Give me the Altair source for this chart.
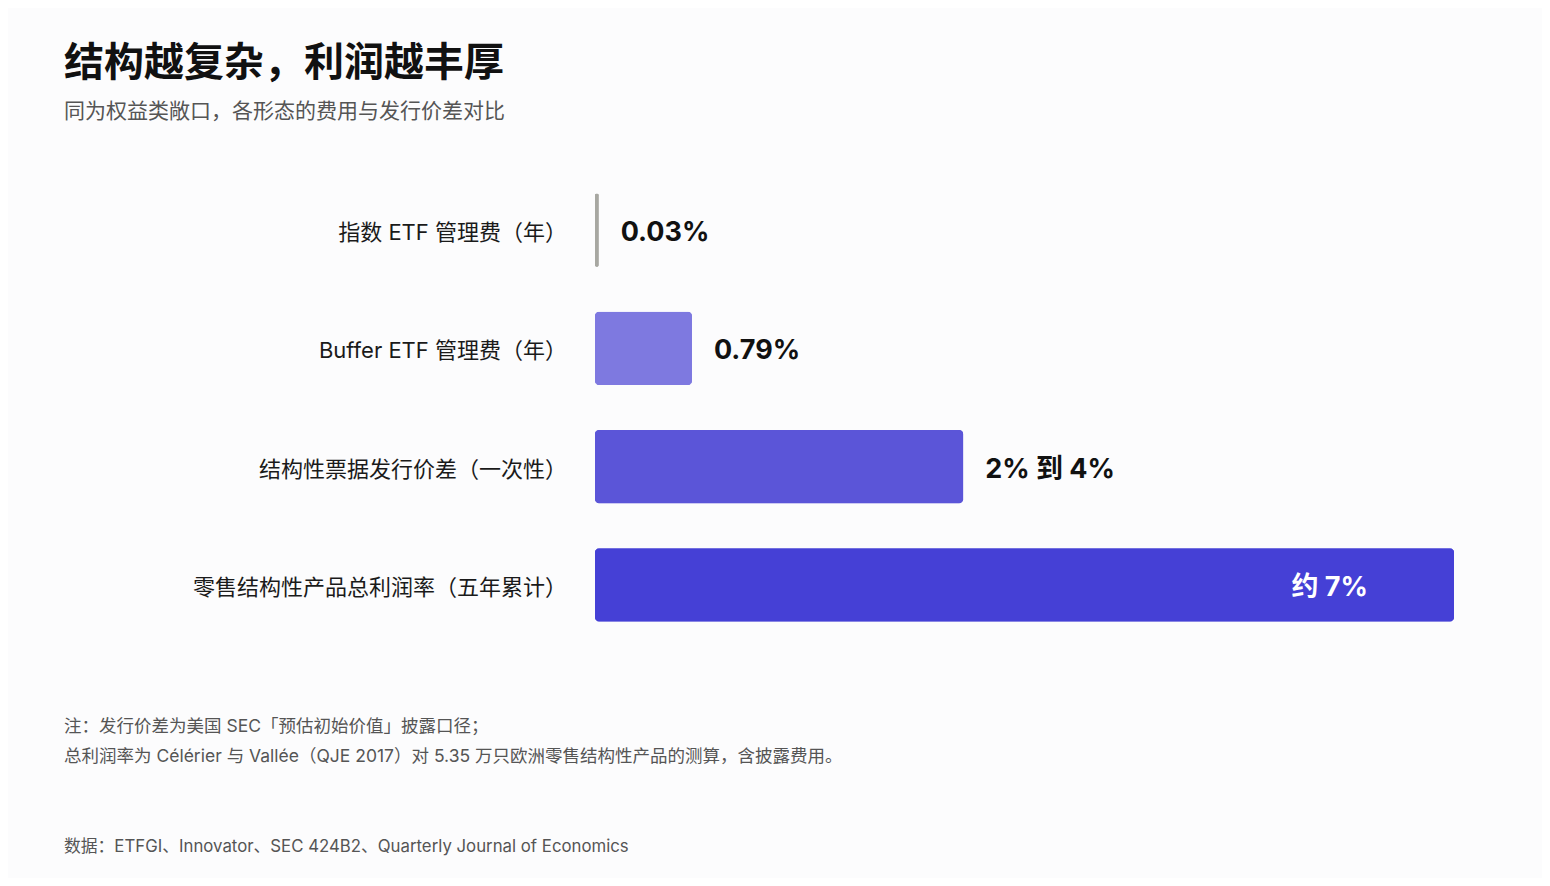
import altair as alt
import pandas as pd

FONT = "Inter, 'Noto Sans CJK SC', sans-serif"

# bar data
categories = [
    "指数 ETF 管理费（年）",
    "Buffer ETF 管理费（年）",
    "结构性票据发行价差（一次性）",
    "零售结构性产品总利润率（五年累计）",
]
values = [0.03, 0.79, 3.0, 7.0]  # % ; 2%-4% drawn at midpoint
value_labels = ["0.03%", "0.79%", "2% 到 4%", "约 7%"]
bar_colors = ["#a8a8a2", "#7e79e0", "#5b55d8", "#4540d6"]

title = "结构越复杂，利润越丰厚"
subtitle = "同为权益类敞口，各形态的费用与发行价差对比"
notes = [
    "注：发行价差为美国 SEC「预估初始价值」披露口径；",
    "总利润率为 Célérier 与 Vallée（QJE 2017）对 5.35 万只欧洲零售结构性产品的测算，含披露费用。",
]
source_note = "数据：ETFGI、Innovator、SEC 424B2、Quarterly Journal of Economics"

df = pd.DataFrame(
    {
        "cat": categories,
        "value": values,
        "label": value_labels,
        "color": bar_colors,
        "inside": [False, False, False, True],
    }
)

W, H = 1534, 870

x_scale = alt.Scale(domain=[0, 7], range=[587, 1446], nice=False, zero=True)
y_scale = alt.Scale(
    domain=categories, range=[163, 636], paddingInner=0.38, paddingOuter=0.19
)

base = alt.Chart(df).encode(
    y=alt.Y("cat:N", scale=y_scale, sort=categories, axis=None),
)

bars = base.mark_bar(cornerRadius=4, strokeWidth=2.2).encode(
    x=alt.X("value:Q", scale=x_scale, axis=None),
    color=alt.Color("color:N", scale=None),
    stroke=alt.Stroke("color:N", scale=None),
)

cat_text = base.mark_text(
    align="right", baseline="middle", dy=3, font=FONT, fontSize=22, color="#1a1a1a"
).encode(x=alt.value(559), text="cat:N")

outside_text = (
    base.transform_filter("!datum.inside")
    .mark_text(
        align="left", baseline="middle", dx=22, dy=3, font=FONT, fontSize=27,
        fontWeight="bold", color="#111111",
    )
    .encode(x=alt.X("value:Q", scale=x_scale), text="label:N")
)

inside_text = (
    base.transform_filter("datum.inside")
    .mark_text(
        align="right", baseline="middle", dx=-86, dy=3, font=FONT, fontSize=27,
        fontWeight="bold", color="#ffffff",
    )
    .encode(x=alt.X("value:Q", scale=x_scale), text="label:N")
)


def page_text(txt, y, size, weight="normal", color="#111111"):
    return (
        alt.Chart(pd.DataFrame({"t": [txt]}))
        .mark_text(
            align="left", baseline="middle", font=FONT, fontSize=size,
            fontWeight=weight, color=color,
        )
        .encode(x=alt.value(56), y=alt.value(y), text="t:N")
    )


header = page_text(title, 56, 40, "bold", "#111111") + page_text(
    subtitle, 104, 21, "normal", "#555555"
)
footer = (
    page_text(notes[0], 719, 17.5, color="#555555")
    + page_text(notes[1], 749, 17.5, color="#555555")
    + page_text(source_note, 839, 16.8, color="#555555")
)

chart = (
    alt.layer(bars, cat_text, outside_text, inside_text, header, footer)
    .properties(
        width=W,
        height=H,
        autosize=alt.AutoSizeParams(type="none"),
        padding=0,
        background="#fcfcfd",
    )
    .configure_view(strokeWidth=0)
)

chart.save("out.html", embed_options={"renderer": "svg", "actions": False})
